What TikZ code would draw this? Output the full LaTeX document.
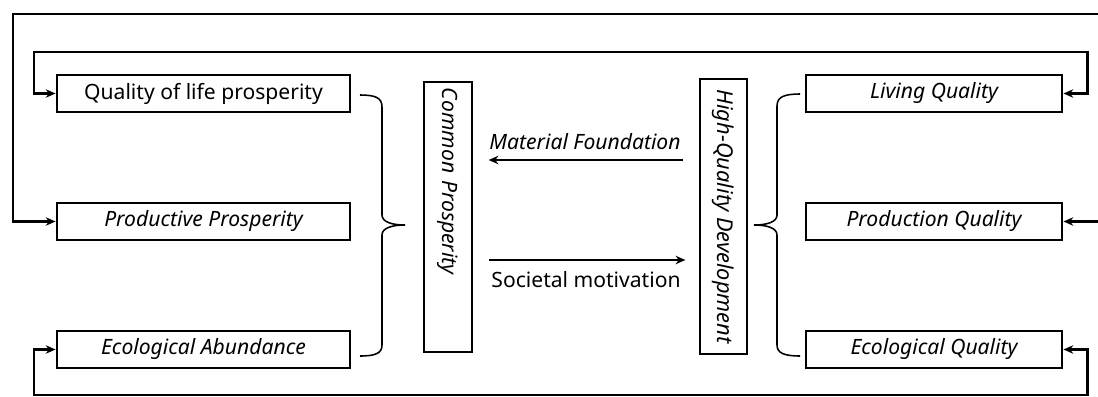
\documentclass[tikz,border=0pt]{standalone}
\usepackage{fontspec}
\setmainfont{Noto Sans}
\usetikzlibrary{arrows.meta}
\begin{document}
\begin{tikzpicture}[x=0.025cm, y=-0.025cm,
	txt/.style={font=\fontsize{15}{17}\selectfont},
	box/.style={txt, draw, line width=2pt, minimum height=0.925cm, inner sep=0pt},
	flow/.style={line width=1.6pt, -{Stealth[length=7pt,width=6pt]}},
	loop/.style={line width=1.6pt, {Stealth[length=7pt,width=6pt]}-{Stealth[length=7pt,width=6pt]}},
	brc/.style={line width=1.1pt}]
			\useasboundingbox (0,0) rectangle (1098,396);
			\clip (0,0) rectangle (1098,396);
			
			%prosperity side
			\foreach \n/\y/\t in {ql/93.5/{Quality of life prosperity}, pp/221.5/{\itshape Productive Prosperity}, ea/349.5/{\itshape Ecological Abundance}}{
				\node[box, minimum width=7.325cm] (\n) at (203.5, \y){\t};
			}
			%quality side
			\foreach \n/\y/\t in {lq/93.5/{Living Quality}, pq/221.5/{Production Quality}, eq/349.5/{Ecological Quality}}{
				\node[box, minimum width=6.4cm, font=\fontsize{15}{17}\selectfont\itshape] (\n) at (934, \y){\t};
			}
			
			%middle boxes (rotated: south is the left side)
			\node[box, rotate=-90, inner xsep=0.15cm, text width=6.45cm, align=left, minimum height=1.2cm, font=\fontsize{15}{17}\selectfont\itshape] (cp) at (448, 217){Common Prosperity};
			\node[box, rotate=-90, minimum width=6.875cm, minimum height=1.175cm, font=\fontsize{15.5}{17}\selectfont\itshape] (hqd) at (723.5, 216.5){High-Quality Development};
			
			\node[txt, font=\fontsize{15}{17}\selectfont\itshape] (mf) at (585, 142){Material Foundation};
			\node[txt] (sm) at (586, 280){Societal motivation};
			\draw[flow] (hqd.south |- 0,160) ++(-16,0) -- ++(-194,0);
			\draw[flow] (cp.north |- 0,260) ++(16,0) -- ++(196,0);
			
			%braces
			\draw[brc] (360,95) .. controls (376,95) and (382,98) .. (382,107) -- (382,215) .. controls (382,222) and (392,225) .. (405,225) .. controls (392,225) and (382,228) .. (382,235) -- (382,345) .. controls (382,353) and (376,356) .. (360,356);
			\draw[brc] (800,94) .. controls (784,94) and (777,97) .. (777,106) -- (777,215) .. controls (777,222) and (767,225) .. (754,225) .. controls (767,225) and (777,228) .. (777,235) -- (777,345) .. controls (777,353) and (784,356) .. (800,356);
			
			%feedback loops
			\draw[loop] (pq.east) -- ++(60,0) |- (13,14) |- (pp.west);
			\draw[loop] (lq.east) -- ++(24,0) |- (34,52) |- (ql.west);
			\draw[loop] (eq.east) -- ++(24,0) |- (34,395) |- (ea.west);
		\end{tikzpicture}
\end{document}
